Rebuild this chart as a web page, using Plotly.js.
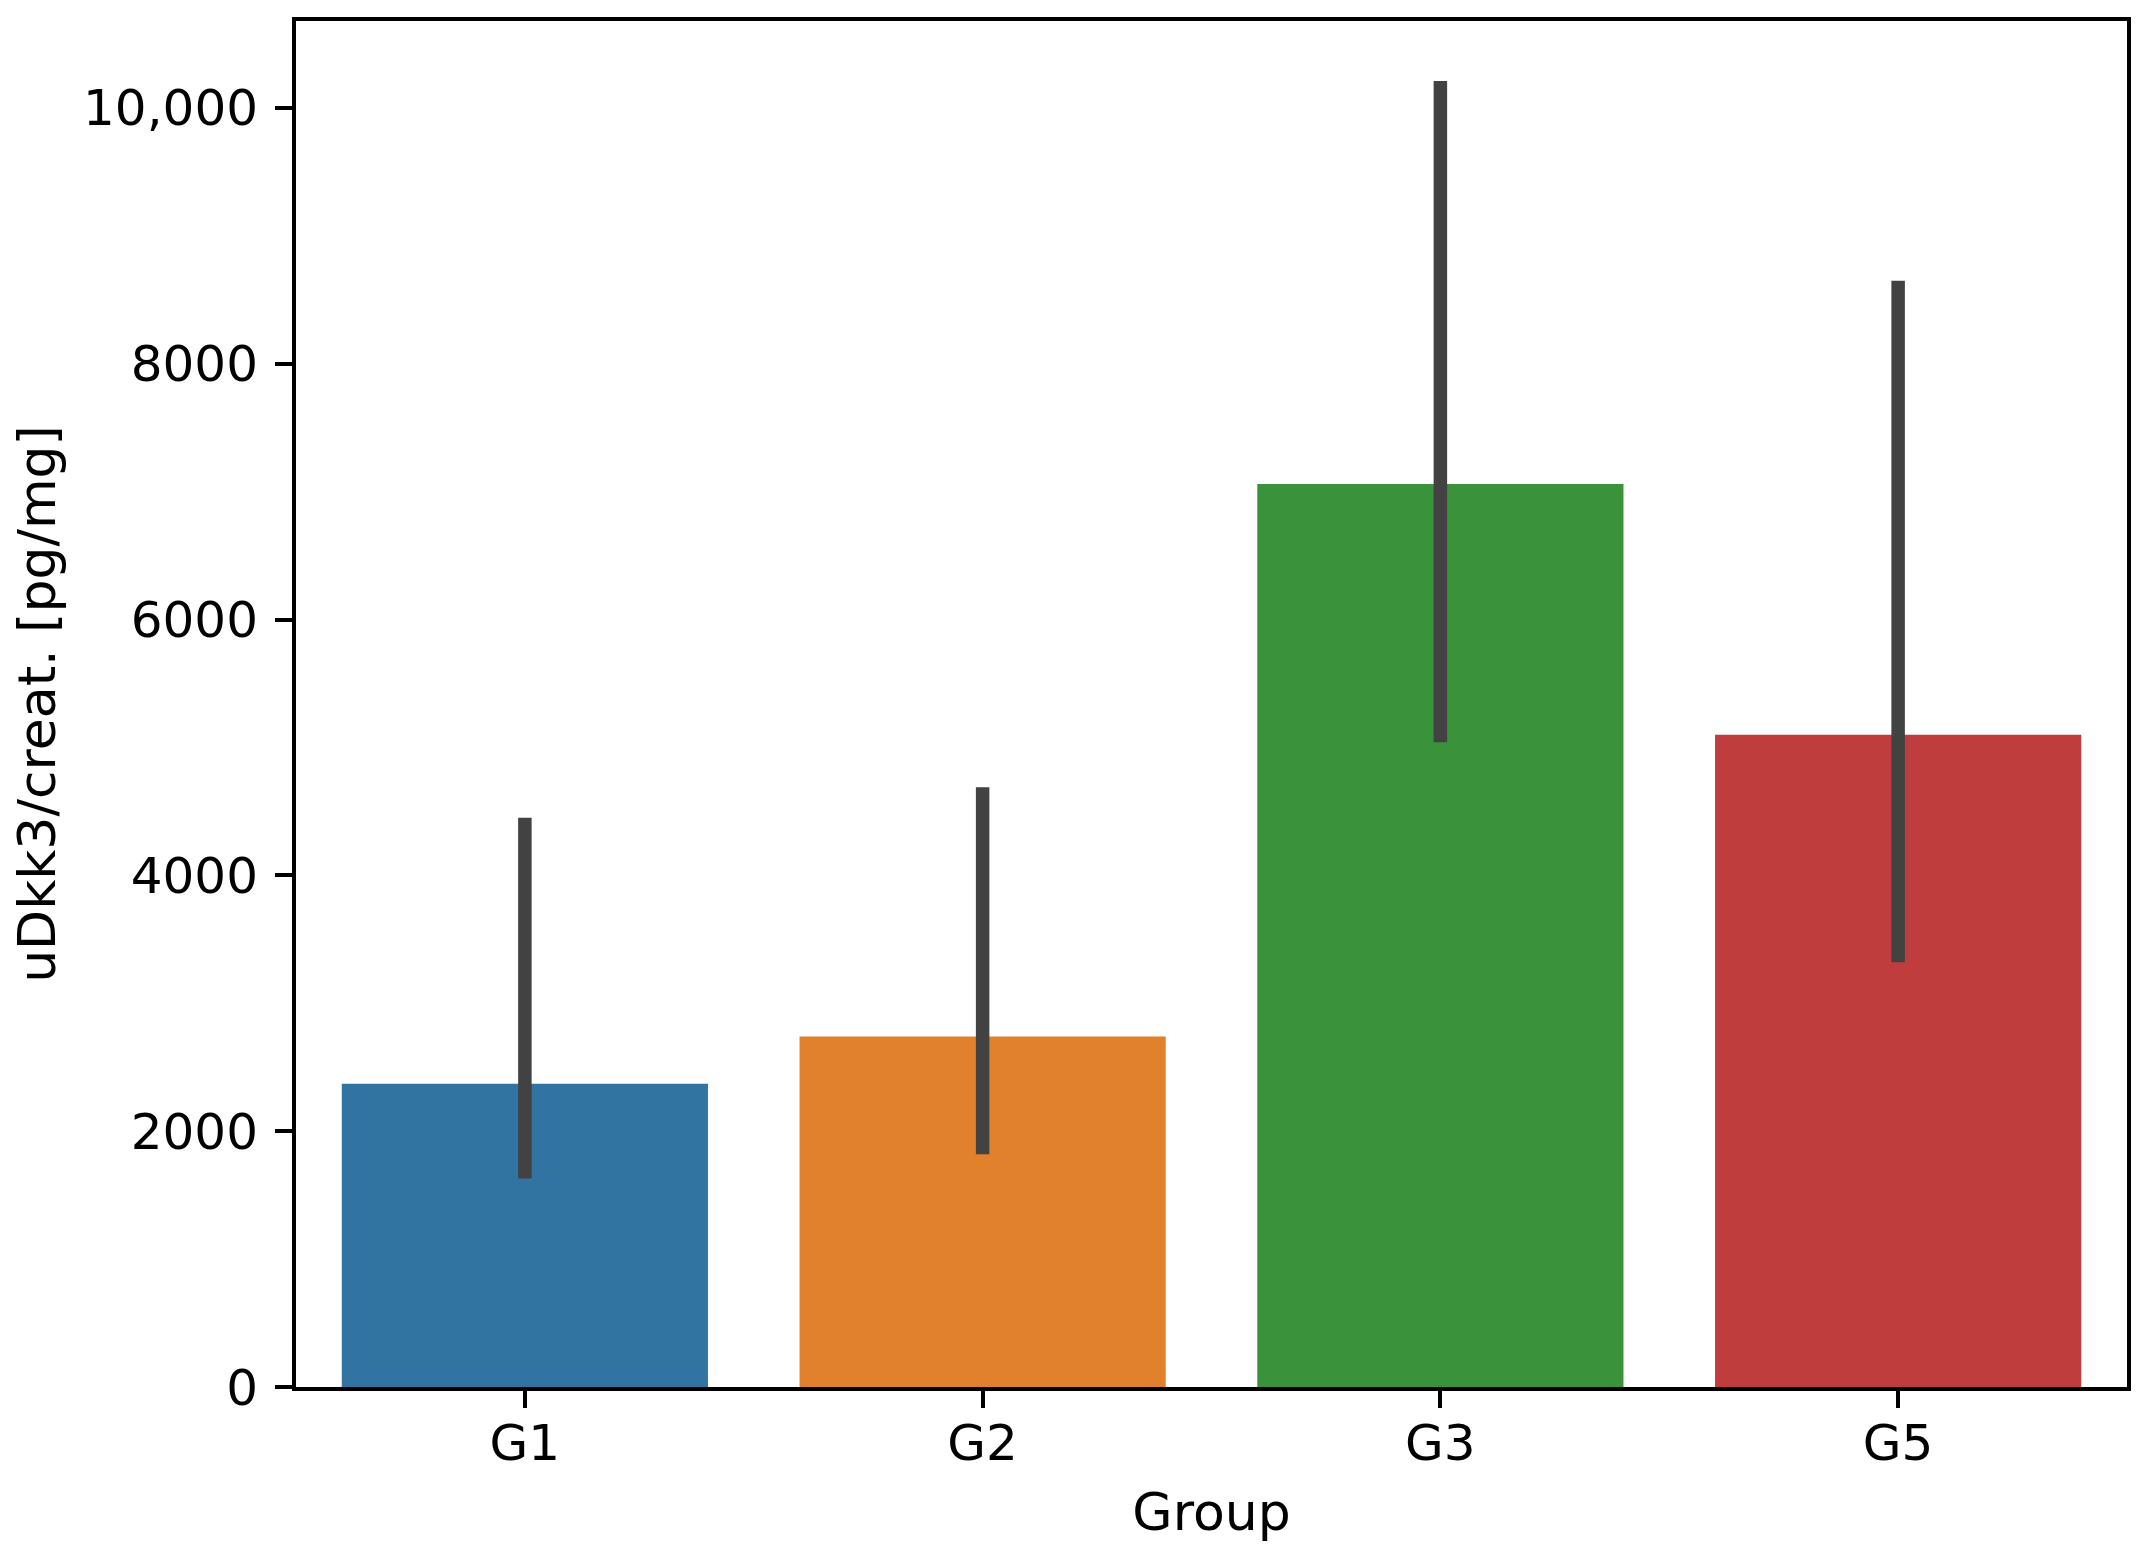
<!DOCTYPE html>
<html>
<head>
<meta charset="utf-8">
<script src="https://cdn.plot.ly/plotly-3.0.1.min.js"></script>
<style>html,body{margin:0;padding:0;background:#fff;}</style>
</head>
<body>
<div id="chart" style="width:2147px;height:1555px;"></div>
<script>
const groups = ["G1", "G2", "G3", "G5"];
const means = [2370, 2740, 7060, 5100];
const ciUpper = [4450, 4690, 10210, 8650];
const ciLower = [1630, 1820, 5040, 3320];
const barColors = ["#3274a1", "#e1812c", "#3a923a", "#c03d3e"];
const yTickVals = [0, 2000, 4000, 6000, 8000, 10000];
const yTickText = ["0", "2000", "4000", "6000", "8000", "10,000"];

const errPlus = means.map((m, i) => ciUpper[i] - m);
const errMinus = means.map((m, i) => m - ciLower[i]);

const font = {family: "DejaVu Sans, sans-serif", size: 50, color: "#000"};
const titleFont = {family: "DejaVu Sans, sans-serif", size: 52, color: "#000"};

const trace = {
  type: "bar",
  x: groups,
  y: means,
  marker: {color: barColors, line: {width: 0}},
  width: 0.8,
  error_y: {
    type: "data",
    symmetric: false,
    array: errPlus,
    arrayminus: errMinus,
    color: "#424242",
    thickness: 13.5,
    width: 0
  },
  hoverinfo: "none"
};

const layout = {
  width: 2147,
  height: 1555,
  margin: {l: 296, r: 20, t: 21, b: 168},
  paper_bgcolor: "#fff",
  plot_bgcolor: "#fff",
  showlegend: false,
  font: font,
  bargap: 0.2,
  xaxis: {
    type: "category",
    range: [-0.5, 3.5],
    showgrid: false,
    zeroline: false,
    showline: true,
    mirror: true,
    linecolor: "#000",
    linewidth: 4,
    ticks: "outside",
    ticklen: 17,
    tickwidth: 4,
    tickcolor: "#000",
    ticklabelstandoff: -8,
    tickfont: font,
    title: {text: "Group", font: titleFont, standoff: 24}
  },
  yaxis: {
    range: [0, 10680],
    showgrid: false,
    zeroline: false,
    showline: true,
    mirror: true,
    linecolor: "#000",
    linewidth: 4,
    ticks: "outside",
    ticklen: 17,
    tickwidth: 4,
    tickcolor: "#000",
    tickmode: "array",
    tickvals: yTickVals,
    ticktext: yTickText,
    ticklabelstandoff: 7,
    tickfont: font,
    title: {text: "uDkk3/creat. [pg/mg]", font: titleFont, standoff: 12}
  }
};

Plotly.newPlot("chart", [trace], layout, {displayModeBar: false, staticPlot: true});
</script>
</body>
</html>
